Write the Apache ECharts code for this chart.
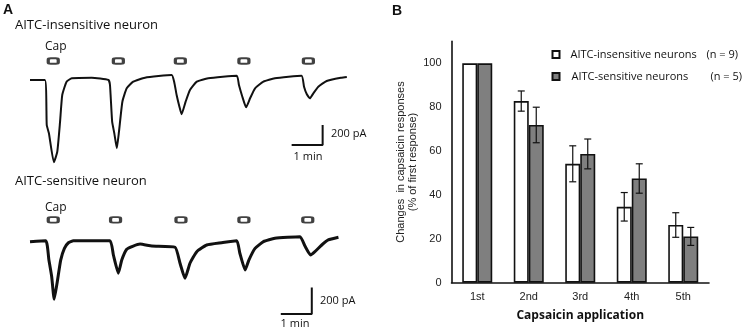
<!DOCTYPE html>
<html>
<head>
<meta charset="utf-8">
<script src="https://cdn.jsdelivr.net/npm/echarts@6/dist/echarts.min.js"></script>
<style>
  html, body { margin: 0; padding: 0; background: #fff; }
  #chart { width: 743px; height: 332px; }
</style>
</head>
<body>
<div id="chart"></div>
<script>
// ---- panel A: whole-cell traces, [time (min), current (pA)] ----
const traceInsensitive = [
  [0, 0], [0.48, 0], [0.54, -450], [0.61, -533], [0.77, -823], [0.88, -717], [0.97, -417],
  [1.04, -150], [1.18, -17], [1.35, 17], [1.99, 23], [2.53, 0],
  [2.58, -50], [2.65, -417], [2.72, -533], [2.80, -683], [2.87, -517], [2.98, -217],
  [3.12, -83], [3.33, -17], [3.71, 23], [4.57, 50],
  [4.65, -17], [4.73, -150], [4.82, -267], [4.89, -343], [5.02, -217], [5.16, -100],
  [5.38, -17], [5.75, 17], [6.67, 43],
  [6.74, -50], [6.85, -167], [6.97, -273], [7.10, -183], [7.26, -83], [7.53, -17],
  [7.90, 17], [8.76, 43],
  [8.84, -67], [8.93, -143], [9.03, -183], [9.14, -133], [9.30, -67], [9.57, -10],
  [10.05, 23], [10.22, 30]
];
const traceSensitive = [
  [0, -5], [0.51, 2], [0.61, -143], [0.70, -268], [0.78, -437], [0.88, -305], [0.99, -143],
  [1.11, -55], [1.24, -13], [1.40, 2], [2.58, 2],
  [2.69, -105], [2.85, -242], [2.96, -143], [3.12, -62], [3.33, -38], [3.55, -23],
  [3.93, -38], [4.68, -47],
  [4.84, -167], [5.00, -280], [5.16, -167], [5.38, -80], [5.70, -30], [6.18, -13], [6.67, 2],
  [6.77, -92], [6.94, -218], [7.06, -143], [7.26, -55], [7.53, -5], [7.90, 20], [8.71, 32],
  [8.87, -38], [9.05, -105], [9.19, -80], [9.41, -30], [9.62, 8], [9.95, 28]
];
// capsaicin application marks (min)
const capTimesTop = [0.75, 2.85, 4.85, 6.9, 8.98];
const capTimesBottom = [0.75, 2.76, 4.87, 6.9, 8.96];
// scale bars: 1 min, 200 pA, anchored at the corner
const scaleMin = 1;
const scalePA = 200;
const scaleCornerTop = [9.44, -650];
const scaleCornerBottom = [9.09, -548];

// ---- panel B: capsaicin responses (% of first response) ----
const applications = ['1st', '2nd', '3rd', '4th', '5th'];
const insensitiveMean = [100, 82.8, 54.2, 34.6, 26.3];
const insensitiveSem = [0, 4.6, 8.2, 6.5, 5.6];
const sensitiveMean = [100, 71.9, 58.7, 47.5, 21.1];
const sensitiveSem = [0, 8.1, 6.8, 6.7, 4.1];
const seriesNames = ['AITC-insensitive neurons', 'AITC-sensitive neurons'];
const nLabels = ['(n = 9)', '(n = 5)'];

const chart = echarts.init(document.getElementById('chart'));

function scaleBar(corner) {
  return [[corner[0] - scaleMin, corner[1]], corner, [corner[0], corner[1] + scalePA]];
}

function errorData(mean, sem) {
  const out = [];
  mean.forEach(function (m, i) {
    if (sem[i] > 0) out.push([i, m - sem[i], m + sem[i]]);
  });
  return out;
}

function errorBar(offset) {
  return function (params, api) {
    const i = api.value(0);
    const lo = api.coord([i, api.value(1)]);
    const hi = api.coord([i, api.value(2)]);
    const x = hi[0] + offset;
    const w = 3.5;
    const st = { stroke: '#111', lineWidth: 1.2 };
    return {
      type: 'group',
      children: [
        { type: 'line', shape: { x1: x, y1: hi[1], x2: x, y2: lo[1] }, style: st },
        { type: 'line', shape: { x1: x - w, y1: hi[1], x2: x + w, y2: hi[1] }, style: st },
        { type: 'line', shape: { x1: x - w, y1: lo[1], x2: x + w, y2: lo[1] }, style: st }
      ]
    };
  };
}

const fontA = '"Open Sans", sans-serif';
const fontB = 'Liberation Sans, Arial, sans-serif';

function txt(text, x, y, size, opts) {
  opts = opts || {};
  return {
    type: 'text', x: x, y: y,
    style: {
      text: text, fill: '#111',
      font: (opts.bold ? 'bold ' : '') + size + 'px ' + (opts.family || fontA),
      textAlign: opts.align || 'left', textVerticalAlign: 'middle'
    }
  };
}

const hiddenVal = function (idx, min, max) {
  return { type: 'value', gridIndex: idx, min: min, max: max, show: false };
};

const option = {
  animation: false,
  backgroundColor: '#fff',
  grid: [
    { left: 30, top: 40, width: 341, height: 140 },
    { left: 30, top: 201, width: 341, height: 120 },
    { left: 451.5, top: 41.4, width: 257.5, height: 241.3 }
  ],
  xAxis: [
    hiddenVal(0, 0, 11),
    hiddenVal(1, 0, 11),
    {
      type: 'category', gridIndex: 2, data: applications,
      axisLine: { lineStyle: { color: '#111', width: 1.6 } },
      axisTick: { show: false },
      axisLabel: { color: '#222', fontSize: 11, fontFamily: fontB, margin: 9 },
      name: 'Capsaicin application', nameLocation: 'middle', nameGap: 27,
      nameTextStyle: { color: '#111', fontSize: 12, fontWeight: 'bold', fontFamily: fontA }
    }
  ],
  yAxis: [
    hiddenVal(0, -1000, 400),
    hiddenVal(1, -600, 300),
    {
      type: 'value', gridIndex: 2, min: 0, max: 110, interval: 20,
      axisLine: { show: true, lineStyle: { color: '#111', width: 1.6 } },
      axisTick: { show: false },
      splitLine: { show: false },
      axisLabel: { color: '#222', fontSize: 11, fontFamily: fontB, margin: 10, showMaxLabel: false },
      name: 'Changes  in capsaicin responses\n(% of first response)',
      nameLocation: 'middle', nameGap: 28, nameRotate: 90,
      nameTextStyle: { color: '#222', fontSize: 11, fontFamily: fontB, lineHeight: 12.5 }
    }
  ],
  legend: {
    data: seriesNames,
    orient: 'vertical',
    left: 551.5, top: 49, padding: 0,
    itemWidth: 7, itemHeight: 7, itemGap: 11,
    icon: 'rect',
    formatter: function (name) {
      const k = seriesNames.indexOf(name);
      return '{a' + k + '|' + name + '}{n|' + nLabels[k] + '}';
    },
    textStyle: {
      color: '#111', fontFamily: fontA, fontSize: 11,
      rich: {
        a0: { width: 136, padding: [0, 0, 0, 6], fontSize: 11, fontFamily: fontA, color: '#111' },
        a1: { width: 139, padding: [0, 0, 0, 7], fontSize: 11, fontFamily: fontA, color: '#111' },
        n: { fontSize: 11, fontFamily: fontA, color: '#111' }
      }
    }
  },
  graphic: [
    txt('A', 3, 10, 14, { bold: true, family: fontB }),
    txt('AITC-insensitive neuron', 15, 25, 13),
    txt('Cap', 45, 47, 12),
    txt('200 pA', 331, 134, 11),
    txt('1 min', 308, 157, 11, { align: 'center' }),
    txt('AITC-sensitive neuron', 15, 181, 13),
    txt('Cap', 45, 207.5, 12),
    txt('200 pA', 320, 301, 11),
    txt('1 min', 295, 324, 11, { align: 'center' }),
    txt('B', 392, 11, 14, { bold: true, family: fontB })
  ],
  series: [
    {
      type: 'line', xAxisIndex: 0, yAxisIndex: 0, data: traceInsensitive,
      showSymbol: false, smooth: 0.15,
      lineStyle: { color: '#111', width: 2, join: 'round' }
    },
    {
      type: 'scatter', xAxisIndex: 0, yAxisIndex: 0,
      data: capTimesTop.map(function (t) { return [t, 190]; }),
      symbol: 'roundRect', symbolSize: [10, 5.5],
      itemStyle: { color: '#fff', borderColor: '#111', borderWidth: 2.4 }
    },
    {
      type: 'line', xAxisIndex: 0, yAxisIndex: 0, data: scaleBar(scaleCornerTop),
      showSymbol: false, lineStyle: { color: '#111', width: 2 }
    },
    {
      type: 'line', xAxisIndex: 1, yAxisIndex: 1, data: traceSensitive,
      showSymbol: false, smooth: 0.15,
      lineStyle: { color: '#111', width: 3, join: 'round' }
    },
    {
      type: 'scatter', xAxisIndex: 1, yAxisIndex: 1,
      data: capTimesBottom.map(function (t) { return [t, 158]; }),
      symbol: 'roundRect', symbolSize: [10, 5.5],
      itemStyle: { color: '#fff', borderColor: '#111', borderWidth: 2.4 }
    },
    {
      type: 'line', xAxisIndex: 1, yAxisIndex: 1, data: scaleBar(scaleCornerBottom),
      showSymbol: false, lineStyle: { color: '#111', width: 2 }
    },
    {
      name: seriesNames[0], type: 'bar', xAxisIndex: 2, yAxisIndex: 2,
      data: insensitiveMean, barWidth: 15, barGap: '0%',
      itemStyle: { color: '#fff', borderColor: '#111', borderWidth: 1.6 }
    },
    {
      name: seriesNames[1], type: 'bar', xAxisIndex: 2, yAxisIndex: 2,
      data: sensitiveMean, barWidth: 15, barGap: '0%',
      itemStyle: { color: '#7f7f7f', borderColor: '#111', borderWidth: 1.6 }
    },
    {
      type: 'custom', xAxisIndex: 2, yAxisIndex: 2, z: 5,
      data: errorData(insensitiveMean, insensitiveSem),
      encode: { x: 0, y: [1, 2] }, renderItem: errorBar(-7.5)
    },
    {
      type: 'custom', xAxisIndex: 2, yAxisIndex: 2, z: 5,
      data: errorData(sensitiveMean, sensitiveSem),
      encode: { x: 0, y: [1, 2] }, renderItem: errorBar(7.5)
    }
  ]
};

chart.setOption(option);
</script>
</body>
</html>
